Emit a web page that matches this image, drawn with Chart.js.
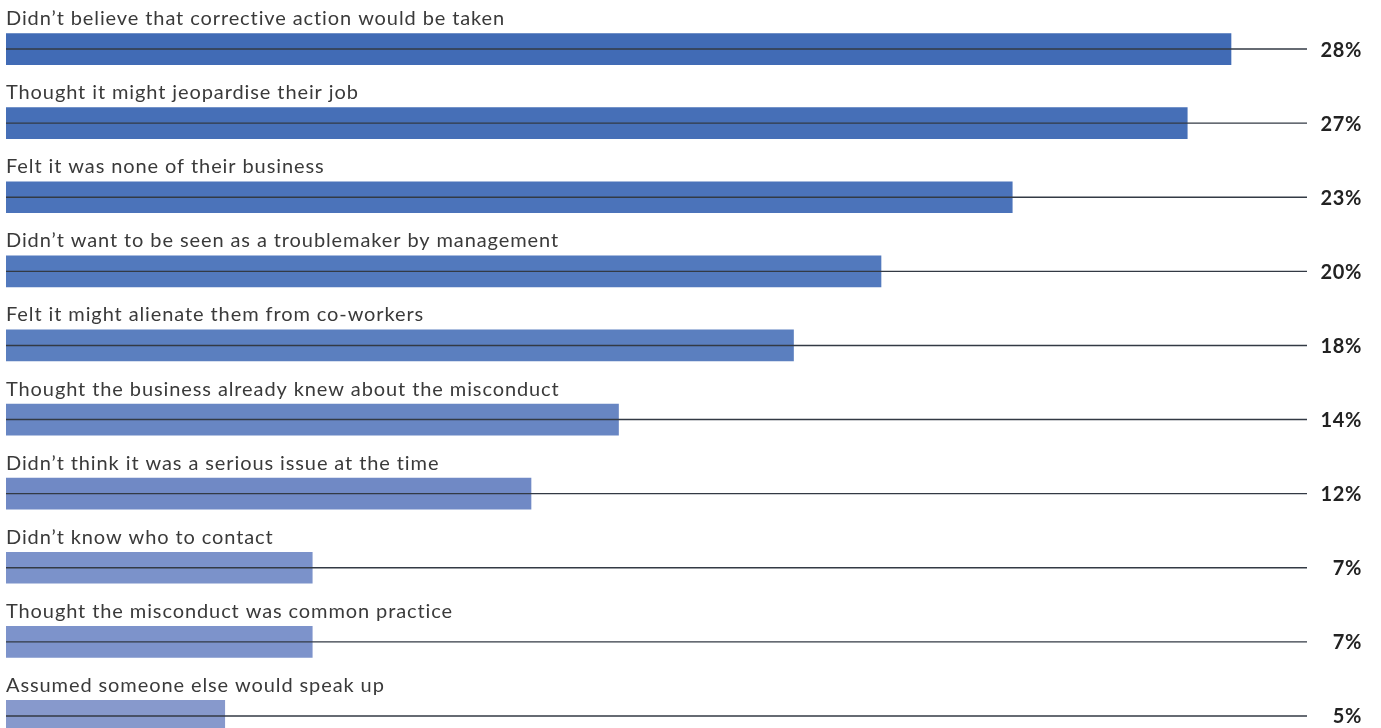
<!DOCTYPE html>
<html>
<head>
<meta charset="utf-8">
<script src="https://cdn.jsdelivr.net/npm/chart.js@4/dist/chart.umd.min.js"></script>
<style>
  html, body { margin: 0; padding: 0; background: #ffffff; overflow: hidden; }
  #wrap { position: relative; width: 1381px; height: 760px; }
</style>
</head>
<body>
<div id="wrap"><canvas id="chart" width="1381" height="760"></canvas></div>
<script>
// Reasons given for not reporting misconduct (% of respondents)
const categories = [
  "Didn\u2019t believe that corrective action would be taken",
  "Thought it might jeopardise their job",
  "Felt it was none of their business",
  "Didn\u2019t want to be seen as a troublemaker by management",
  "Felt it might alienate them from co-workers",
  "Thought the business already knew about the misconduct",
  "Didn\u2019t think it was a serious issue at the time",
  "Didn\u2019t know who to contact",
  "Thought the misconduct was common practice",
  "Assumed someone else would speak up"
];
const values = [28, 27, 23, 20, 18, 14, 12, 7, 7, 5];
const valueLabels = ["28%", "27%", "23%", "20%", "18%", "14%", "12%", "7%", "7%", "5%"];

// Bars fade from a deep to a pale blue down the list
const barColors = [
  "#416bb5", "#466fb7", "#4b73ba", "#5279bd", "#5b7fbf",
  "#6886c3", "#7089c5", "#7b92ca", "#7d93cb", "#8799cc"
];

const rowDecor = {
  id: "rowDecor",
  afterDatasetsDraw(chart) {
    const ctx = chart.ctx;
    const area = chart.chartArea;
    const meta = chart.getDatasetMeta(0);
    ctx.save();
    meta.data.forEach((bar, i) => {
      const y = bar.y;
      // thin rule through the middle of each row
      ctx.strokeStyle = "#333a44";
      ctx.lineWidth = 1.4;
      ctx.beginPath();
      ctx.moveTo(area.left, y);
      ctx.lineTo(area.right, y);
      ctx.stroke();
      // category label above the bar
      ctx.fillStyle = "#3a3a3a";
      ctx.font = "400 20px Lato";
      ctx.letterSpacing = "0.9px";
      ctx.textAlign = "left";
      ctx.textBaseline = "alphabetic";
      ctx.fillText(categories[i], area.left, y - 24);
      // value at the right end
      ctx.fillStyle = "#222222";
      ctx.font = "bold 20px Lato";
      ctx.letterSpacing = "0.6px";
      ctx.textAlign = "right";
      ctx.textBaseline = "middle";
      ctx.fillText(valueLabels[i], 1362, y + 1);
    });
    ctx.restore();
  }
};

new Chart(document.getElementById("chart"), {
  type: "bar",
  data: {
    labels: categories,
    datasets: [{
      data: values,
      backgroundColor: barColors,
      borderWidth: 0,
      barThickness: 31
    }]
  },
  options: {
    indexAxis: "y",
    responsive: false,
    animation: false,
    layout: { padding: { left: 6, right: 74, top: 12, bottom: 7 } },
    plugins: { legend: { display: false }, tooltip: { enabled: false } },
    scales: {
      x: { display: false, min: 0, max: 1301 / 43.75 },
      y: { display: false, grid: { display: false } }
    }
  },
  plugins: [rowDecor]
});
</script>
</body>
</html>
